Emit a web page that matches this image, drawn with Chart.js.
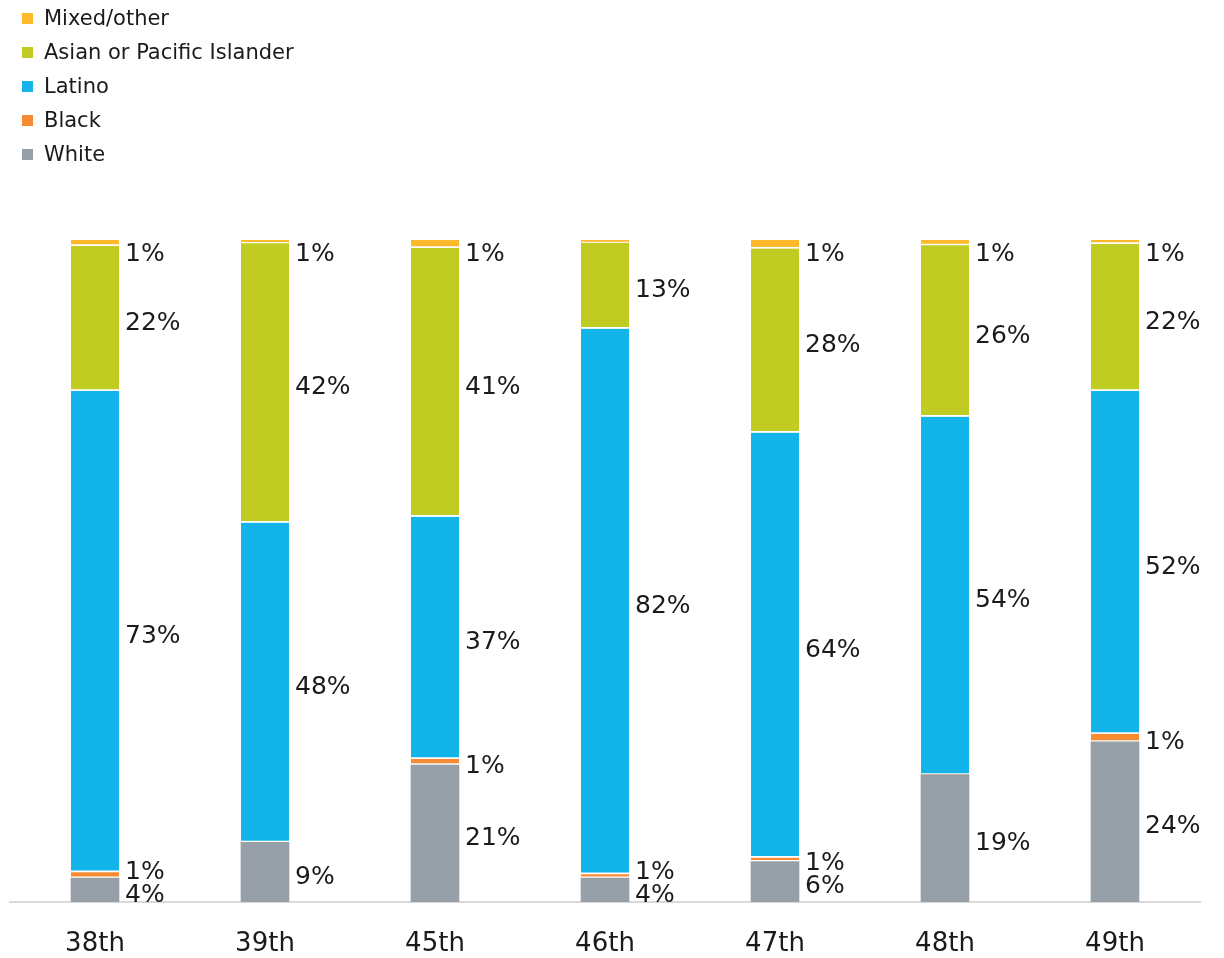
<!DOCTYPE html>
<html>
<head>
<meta charset="utf-8">
<script src="https://cdn.jsdelivr.net/npm/chart.js@4/dist/chart.umd.min.js"></script>
<style>
    html, body { margin: 0; padding: 0; background: #fff; }
    #wrap { position: relative; width: 1224px; height: 958px; }
    #legend {
        position: absolute; left: 22px; top: 1px;
        font-family: "DejaVu Sans", sans-serif; font-size: 21px; color: #1a1a1a;
    }
    #legend .item { height: 34px; line-height: 34px; display: flex; align-items: center; }
    #legend .swatch { width: 11px; height: 11px; margin-right: 11px; }
</style>
</head>
<body>
<div id="wrap">
    <canvas id="raceChart" width="1224" height="958"></canvas>
    <div id="legend"></div>
</div>
<script>
// Share of each group by district (percent)
const districts = ['38th', '39th', '45th', '46th', '47th', '48th', '49th'];
const white  = [3.6, 9.0, 20.7, 3.6, 6.1, 19.2, 24.2];
const black  = [0.9, 0, 0.9, 0.6, 0.6, 0, 1.2];
const latino = [72.7, 48.3, 36.6, 82.4, 64.2, 54.1, 51.8];
const asian  = [21.9, 42.2, 40.6, 13.0, 27.8, 25.9, 22.2];
const mixed  = [0.9, 0.5, 1.2, 0.4, 1.3, 0.8, 0.6];

const FONT = '"DejaVu Sans", sans-serif';

function makeSet(label, data, color, gap) {
    return {
        label: label,
        data: data,
        backgroundColor: color,
        borderColor: '#ffffff',
        borderWidth: { top: 0, right: 0, bottom: gap, left: 0 },
        borderSkipped: false,
        barThickness: 48
    };
}

// percentage labels to the right of each segment
const segmentLabels = {
    id: 'segmentLabels',
    afterDatasetsDraw(chart) {
        const ctx = chart.ctx;
        ctx.save();
        ctx.font = '25px ' + FONT;
        ctx.fillStyle = '#1a1a1a';
        ctx.textAlign = 'left';
        ctx.textBaseline = 'middle';
        districts.forEach((d, i) => {
            const items = [];
            let barTop = Infinity;
            chart.data.datasets.forEach((ds, di) => {
                const bar = chart.getDatasetMeta(di).data[i];
                barTop = Math.min(barTop, bar.y);
                const pct = Math.round(ds.data[i]);
                if (pct < 1) return;
                items.push({
                    text: pct + '%',
                    x: bar.x + bar.width / 2 + 6,
                    y: (bar.y + bar.base) / 2 + 5
                });
            });
            // keep stacked labels from overlapping, working upward
            for (let k = 1; k < items.length; k++) {
                if (items[k - 1].y - items[k].y < 23) items[k].y = items[k - 1].y - 23;
            }
            const last = items[items.length - 1];
            if (last && last.y < barTop + 14) last.y = barTop + 14;
            items.forEach(it => ctx.fillText(it.text, it.x, it.y));
        });
        ctx.restore();
    }
};

const chart = new Chart(document.getElementById('raceChart'), {
    type: 'bar',
    data: {
        labels: districts,
        datasets: [
            makeSet('White', white, '#97a0a8', 0),
            makeSet('Black', black, '#f68b33', 2),
            makeSet('Latino', latino, '#13b4e9', 2),
            makeSet('Asian or Pacific Islander', asian, '#c1cc23', 2),
            makeSet('Mixed/other', mixed, '#fdb92c', 2)
        ]
    },
    options: {
        responsive: false,
        animation: false,
        layout: { padding: { top: 240, left: 10, right: 24, bottom: 0 } },
        plugins: {
            legend: { display: false },
            tooltip: { enabled: false }
        },
        scales: {
            x: {
                stacked: true,
                grid: { display: false, drawTicks: false },
                border: { display: true, color: '#d9d9d9', width: 2 },
                ticks: {
                    color: '#1a1a1a',
                    padding: 27,
                    font: { family: FONT, size: 26 }
                },
                afterFit(scale) { scale.height = 56; }
            },
            y: {
                stacked: true,
                display: false,
                min: 0,
                max: 100
            }
        }
    },
    plugins: [segmentLabels]
});

// legend, top item first
const legendEl = document.getElementById('legend');
chart.data.datasets.slice().reverse().forEach(ds => {
    const row = document.createElement('div');
    row.className = 'item';
    const sw = document.createElement('span');
    sw.className = 'swatch';
    sw.style.background = ds.backgroundColor;
    const txt = document.createElement('span');
    txt.textContent = ds.label;
    row.appendChild(sw);
    row.appendChild(txt);
    legendEl.appendChild(row);
});
</script>
</body>
</html>
